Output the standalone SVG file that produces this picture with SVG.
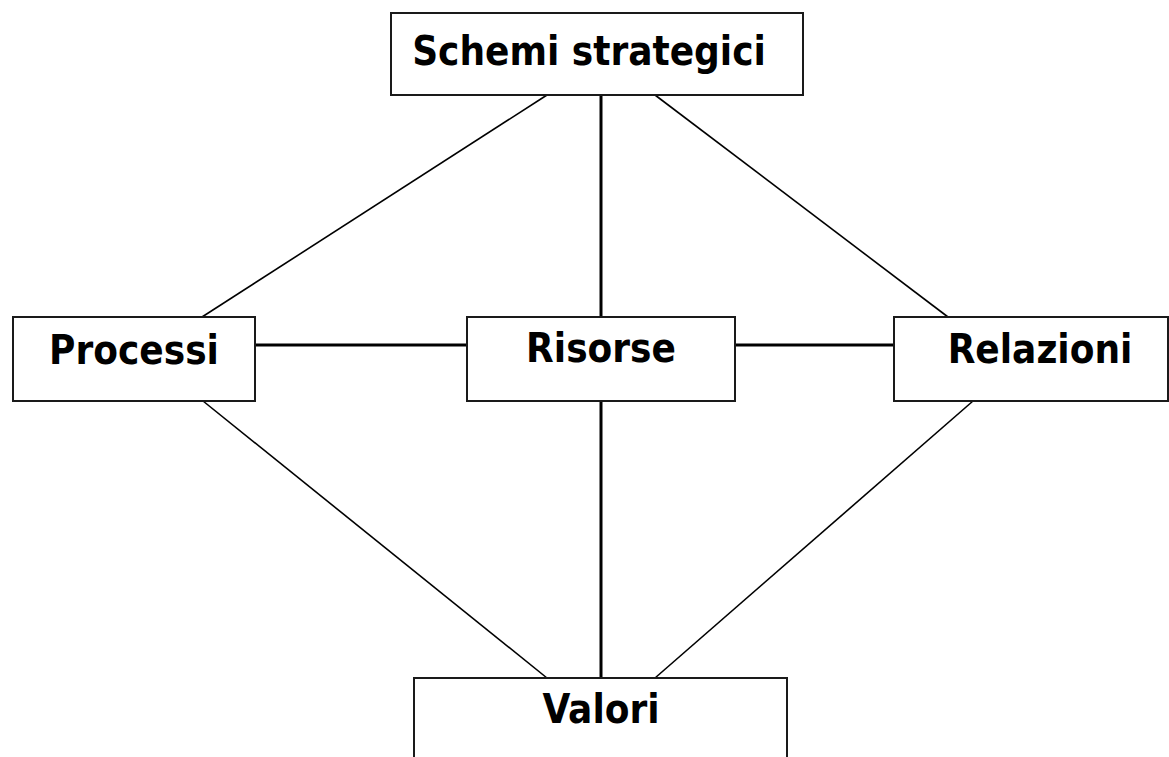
<svg xmlns="http://www.w3.org/2000/svg" width="1169" height="757" viewBox="0 0 1169 757">
<style>
.box{fill:#fff;stroke:#1a1a1a;stroke-width:2}
.lbl{font-family:"DejaVu Sans Condensed","DejaVu Sans",sans-serif;font-weight:bold;font-size:40px;fill:#000;text-anchor:middle}
.thin{stroke:#000;stroke-width:1.6;fill:none}
.thick{stroke:#000;stroke-width:3;fill:none}
</style>
<rect width="1169" height="757" fill="#fff"/>
<g id="connectors">
<line class="thin" x1="547" y1="95" x2="202" y2="317"/>
<line class="thick" x1="601" y1="95" x2="601" y2="317"/>
<line class="thin" x1="655" y1="95" x2="948" y2="317"/>
<line class="thick" x1="255" y1="345" x2="467" y2="345"/>
<line class="thick" x1="735" y1="345" x2="894" y2="345"/>
<line class="thin" x1="203" y1="401" x2="547" y2="678"/>
<line class="thick" x1="601" y1="401" x2="601" y2="678"/>
<line class="thin" x1="973" y1="401" x2="655" y2="678"/>
</g>
<g id="schemi">
<rect class="box" x="391" y="13" width="412" height="82"/>
<text class="lbl" x="589" y="65">Schemi strategici</text>
</g>
<g id="processi">
<rect class="box" x="13" y="317" width="242" height="84"/>
<text class="lbl" x="134" y="364">Processi</text>
</g>
<g id="risorse">
<rect class="box" x="467" y="317" width="268" height="84"/>
<text class="lbl" x="601" y="362">Risorse</text>
</g>
<g id="relazioni">
<rect class="box" x="894" y="317" width="274" height="84"/>
<text class="lbl" x="1040" y="363">Relazioni</text>
</g>
<g id="valori">
<rect class="box" x="414" y="678" width="373" height="90"/>
<text class="lbl" x="601" y="723">Valori</text>
</g>
</svg>
